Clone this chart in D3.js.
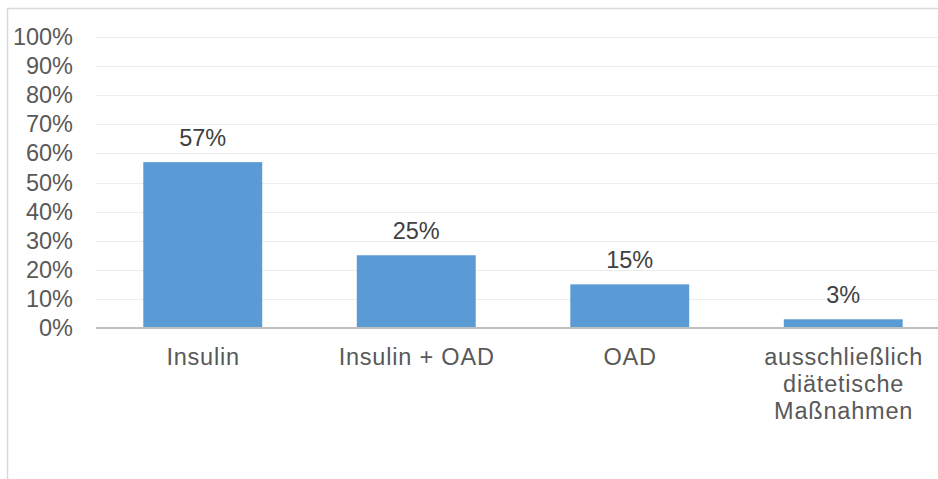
<!DOCTYPE html>
<html>
<head>
<meta charset="utf-8">
<script src="https://cdn.jsdelivr.net/npm/d3@7"></script>
<style>
  html, body { margin: 0; padding: 0; background: #ffffff; }
  svg { display: block; }
  text { font-family: "Liberation Sans", Arial, sans-serif; fill: #595959; }
</style>
</head>
<body>
<div id="chart"></div>
<script>
// Therapieform – Anteil der Patienten
const categories = [
  ["Insulin"],
  ["Insulin + OAD"],
  ["OAD"],
  ["ausschließlich", "diätetische", "Maßnahmen"]
];
const values = [57, 25, 15, 3];
const tickValues = [0, 10, 20, 30, 40, 50, 60, 70, 80, 90, 100];

const width = 938, height = 479;
const margin = { left: 96, right: -12, top: 37, bottom: 151 };
const fontSize = 23.5;

const svg = d3.select("#chart").append("svg")
  .attr("width", width).attr("height", height);

// Chart frame
svg.append("rect")
  .attr("x", 7.5).attr("y", 8.5)
  .attr("width", width + 20).attr("height", height + 20)
  .attr("fill", "none").attr("stroke", "#d9d9d9").attr("stroke-width", 1.5);

const x = d3.scaleBand()
  .domain(d3.range(categories.length))
  .range([margin.left, width - margin.right])
  .paddingInner(0.443).paddingOuter(0.2215);

const y = d3.scaleLinear()
  .domain([0, 100])
  .range([height - margin.bottom, margin.top]);

// Gridlines
svg.append("g")
  .selectAll("line")
  .data(tickValues.filter(d => d > 0))
  .join("line")
  .attr("x1", margin.left).attr("x2", width - margin.right)
  .attr("y1", d => Math.round(y(d)) + 0.5).attr("y2", d => Math.round(y(d)) + 0.5)
  .attr("stroke", "#ececec").attr("stroke-width", 1);

// Y axis tick labels
const yAxis = d3.axisLeft(y).tickValues(tickValues).tickFormat(d => d + "%").tickSize(0).tickPadding(23);
const gy = svg.append("g").attr("transform", `translate(${margin.left},0)`).call(yAxis);
gy.select(".domain").remove();
gy.selectAll("text").attr("font-size", fontSize).attr("fill", "#595959")
  .style("font-family", "'Liberation Sans', Arial, sans-serif");

// Bars
svg.append("g")
  .selectAll("rect")
  .data(values)
  .join("rect")
  .attr("x", (d, i) => x(i))
  .attr("width", x.bandwidth())
  .attr("y", d => y(d))
  .attr("height", d => y(0) - y(d))
  .attr("fill", "#5b9bd5");

// Value labels
svg.append("g")
  .selectAll("text")
  .data(values)
  .join("text")
  .attr("x", (d, i) => x(i) + x.bandwidth() / 2)
  .attr("y", d => y(d) - 16)
  .attr("text-anchor", "middle")
  .attr("font-size", fontSize)
  .style("fill", "#404040")
  .text(d => d + "%");

// Baseline axis
const xAxis = d3.axisBottom(x).tickSize(0).tickFormat("");
const gx = svg.append("g").attr("transform", `translate(0,${y(0)})`).call(xAxis);
gx.select(".domain").attr("stroke", "#bfbfbf").attr("stroke-width", 2)
  .attr("d", `M${margin.left},0H${width - margin.right}`);

// Category labels
const catG = svg.append("g");
categories.forEach((lines, i) => {
  const cx = x(i) + x.bandwidth() / 2 + 0.4;
  const t = catG.append("text")
    .attr("x", cx)
    .attr("y", y(0) + 37)
    .attr("text-anchor", "middle")
    .attr("font-size", fontSize)
    .style("letter-spacing", "0.8px");
  lines.forEach((ln, j) => {
    t.append("tspan")
      .attr("x", cx)
      .attr("dy", j === 0 ? 0 : 27)
      .text(ln);
  });
});
</script>
</body>
</html>
